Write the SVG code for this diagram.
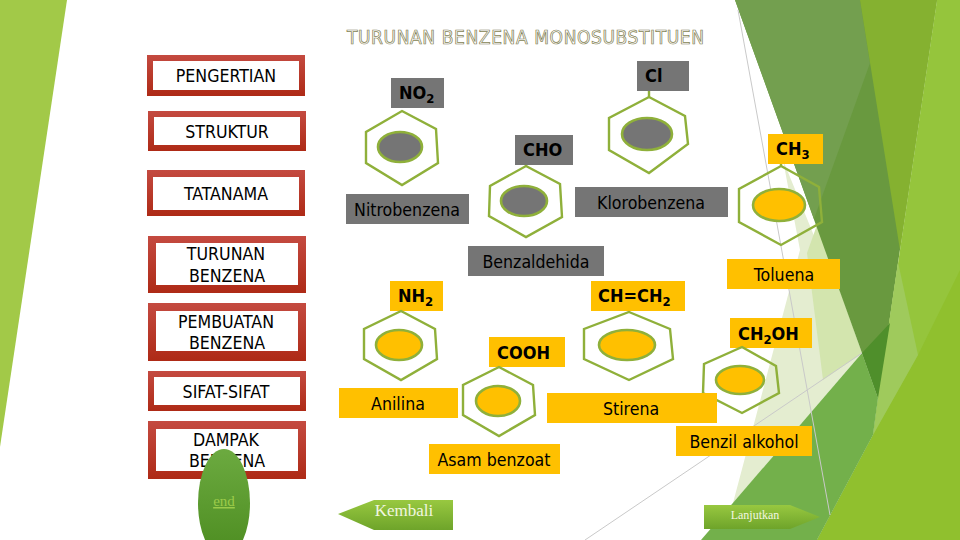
<svg xmlns="http://www.w3.org/2000/svg" width="960" height="540" viewBox="0 0 960 540">
<style>
text{font-family:"DejaVu Sans Condensed","DejaVu Sans","Liberation Sans",sans-serif;font-size:17.6px;fill:#000;text-anchor:middle}
.f{font-weight:700;font-size:18px;text-anchor:start}
.sub{font-size:13px}
.r{fill:url(#red)}
.in{fill:#fff}
.g{fill:#757575}
.y{fill:#ffc000}
.hex{fill:none;stroke:#8fb03a;stroke-width:2.4;stroke-linejoin:miter}
.eg{fill:#757575;stroke:#8fb03a;stroke-width:2.6}
.ey{fill:#ffc000;stroke:#8fb03a;stroke-width:2.6}
.stub{stroke:#8fb03a;stroke-width:2.4}
.thin{stroke:#c9c9c9;stroke-width:1;fill:none}
</style>
<defs>
<linearGradient id="red" x1="0" y1="0" x2="0" y2="1"><stop offset="0" stop-color="#c44a40"/><stop offset="1" stop-color="#ae2a16"/></linearGradient>
<linearGradient id="oval" x1="0" y1="0" x2="0" y2="1"><stop offset="0" stop-color="#6caa40"/><stop offset="1" stop-color="#4c8c20"/></linearGradient>
<linearGradient id="arrow" x1="0" y1="0" x2="0" y2="1"><stop offset="0" stop-color="#98c840"/><stop offset="1" stop-color="#6ea42a"/></linearGradient>
</defs>
<rect width="960" height="540" fill="#fff"/>
<g id="background">
<polygon points="0,0 67,0 0,447" fill="#a2c948"/>
<polygon points="783,160 800,250 733,503 862,353" fill="#e4edd0"/>
<polygon points="807,253 817,225 862,353 823,380" fill="#d3e5ae"/>
<polygon points="735,0 937,0 878,398 862,353" fill="#69993f"/>
<polygon points="735,0 860,0 870,63 814,219" fill="#739f4f"/>
<polygon points="860,0 937,0 900,250" fill="#85b130"/>
<polygon points="937,0 960,0 960,540 817,540 873,435 878,398 900,250" fill="#95c53c"/>
<polygon points="960,270 918,355 873,435 817,540 960,540" fill="#90c02e"/>
<polygon points="898,262 918,355 873,435 878,398" fill="#9fca5c"/>
<polygon points="701,540 862,353 878,398 873,435 817,540" fill="#73b04b"/>
<polygon points="862,353 890,323 878,398" fill="#4f8f2b"/>
<line class="thin" x1="738" y1="10" x2="830" y2="515"/>
<line class="thin" x1="585" y1="540" x2="862" y2="353"/>
</g>
<text x="525.500" y="44" style="font-size:19px;fill:#fff;stroke:#7f7e50;stroke-width:.7;opacity:.99" textLength="357">TURUNAN BENZENA MONOSUBSTITUEN</text>
<g id="menu-pengertian"><rect class="r" x="147" y="55" width="158" height="41"/><rect class="in" x="153" y="61" width="146" height="29"/><text x="226" y="82">PENGERTIAN</text></g>
<g id="menu-struktur"><rect class="r" x="148" y="111" width="158" height="40"/><rect class="in" x="154" y="117" width="146" height="28"/><text x="227" y="138">STRUKTUR</text></g>
<g id="menu-tatanama"><rect class="r" x="147" y="170" width="158" height="46"/><rect class="in" x="153" y="177" width="146" height="33"/><text x="226" y="200">TATANAMA</text></g>
<g id="menu-turunan"><rect class="r" x="148" y="236" width="158" height="57"/><rect class="in" x="156" y="243" width="142" height="42"/><text x="226" y="260">TURUNAN</text><text x="227" y="282">BENZENA</text></g>
<g id="menu-pembuatan"><rect class="r" x="148" y="303" width="158" height="58"/><rect class="in" x="156" y="311" width="142" height="40"/><text x="226" y="328">PEMBUATAN</text><text x="227" y="349">BENZENA</text></g>
<g id="menu-sifat"><rect class="r" x="148" y="371" width="158" height="40"/><rect class="in" x="154" y="377" width="146" height="28"/><text x="226" y="398">SIFAT-SIFAT</text></g>
<g id="menu-dampak"><rect class="r" x="148" y="421" width="158" height="58"/><rect class="in" x="156" y="429" width="142" height="42"/><text x="226" y="446">DAMPAK</text><text x="227" y="467">BENZENA</text></g>
<g id="end"><ellipse cx="224" cy="503" rx="26" ry="54" fill="url(#oval)"/><text x="224" y="506" style="font-family:'Liberation Serif',serif;font-size:15px;fill:#9ccb4a;text-decoration:underline">end</text></g>

<g id="connectors">
<line class="stub" x1="526" y1="160" x2="526" y2="166"/>
<line class="stub" x1="649" y1="88" x2="649" y2="97"/>
<line class="stub" x1="781" y1="160" x2="781" y2="166"/>
<line class="stub" x1="629" y1="305" x2="629" y2="312"/>
<line class="stub" x1="499" y1="360" x2="499" y2="367"/>
<line class="stub" x1="742" y1="342" x2="742" y2="347"/>
</g>

<g id="nitrobenzena"><rect class="g" x="391" y="78" width="53" height="30"/><text class="f" x="399" y="99">NO<tspan class="sub" dy="4">2</tspan></text><polygon class="hex" points="402,111 436,129 438,163 402,185 366,163 366,132"/><ellipse class="eg" cx="400" cy="147" rx="22" ry="15"/><rect class="g" x="346" y="194" width="123" height="30"/><text x="407" y="216">Nitrobenzena</text></g>
<g id="benzaldehida"><rect class="g" x="515" y="135" width="58" height="30"/><text class="f" x="523" y="156">CHO</text><polygon class="hex" points="526,166 560,184 562,217 526,237 489,216 490,186"/><ellipse class="eg" cx="524" cy="201" rx="23" ry="15"/><rect class="g" x="468" y="246" width="136" height="30"/><text x="536" y="268">Benzaldehida</text></g>
<g id="klorobenzena"><rect class="g" x="637" y="61" width="52" height="30"/><text class="f" x="645" y="82">Cl</text><polygon class="hex" points="649,97 685,116 688,144 649,173 609,150 609,118"/><ellipse class="eg" cx="647" cy="134" rx="25" ry="16"/><rect class="g" x="575" y="187" width="153" height="30"/><text x="651" y="209">Klorobenzena</text></g>
<g id="toluena"><rect class="y" x="768" y="134" width="55" height="30"/><text class="f" x="776" y="155">CH<tspan class="sub" dy="4">3</tspan></text><polygon class="hex" points="781,166 819,187 822,222 781,245 739,222 739,189"/><ellipse class="ey" cx="779" cy="205" rx="26" ry="16"/><rect class="y" x="727" y="259" width="113" height="30"/><text x="784" y="281">Toluena</text></g>
<g id="anilina"><rect class="y" x="390" y="281" width="53" height="30"/><text class="f" x="398" y="302">NH<tspan class="sub" dy="4">2</tspan></text><polygon class="hex" points="401,311 435,329 437,359 401,380 364,359 364,329"/><ellipse class="ey" cx="399" cy="345" rx="23" ry="15"/><rect class="y" x="339" y="388" width="119" height="30"/><text x="398" y="410">Anilina</text></g>
<g id="stirena"><rect class="y" x="591" y="281" width="94" height="30"/><text class="f" x="598" y="302">CH=CH<tspan class="sub" dy="4">2</tspan></text><polygon class="hex" points="629,312 670,329 673,359 629,380 584,359 584,329"/><ellipse class="ey" cx="627" cy="345" rx="28" ry="15"/></g>
<g id="asam-benzoat"><rect class="y" x="489" y="337" width="76" height="30"/><text class="f" x="497" y="359">COOH</text><polygon class="hex" points="499,367 533,385 535,415 499,436 463,415 463,385"/><ellipse class="ey" cx="498" cy="401" rx="22" ry="15"/><rect class="y" x="429" y="444" width="131" height="30"/><text x="494" y="466">Asam benzoat</text></g>
<g id="benzil-alkohol"><rect class="y" x="730" y="318" width="82" height="30"/><text class="f" x="738" y="340">CH<tspan class="sub" dy="4">2</tspan><tspan dy="-4">OH</tspan></text><polygon class="hex" points="742,347 776,366 779,393 742,413 703,393 704,364"/><ellipse class="ey" cx="740" cy="380" rx="24" ry="14"/><rect class="y" x="676" y="426" width="136" height="30"/><text x="744" y="448">Benzil alkohol</text></g>
<g id="stirena-label"><rect class="y" x="547" y="393" width="170" height="30"/><text x="631" y="415">Stirena</text></g>

<g id="kembali"><polygon points="338,514 374,500 453,500 453,530 374,530" fill="url(#arrow)"/><text x="404" y="516" style="font-family:'Liberation Serif',serif;font-size:17px;fill:#f2f7e0">Kembali</text></g>
<g id="lanjutkan"><polygon points="704,505 790,505 820,517 790,529 704,529" fill="url(#arrow)"/><text x="755" y="519" style="font-family:'Liberation Serif',serif;font-size:12px;fill:#f2f7e0">Lanjutkan</text></g>
</svg>
